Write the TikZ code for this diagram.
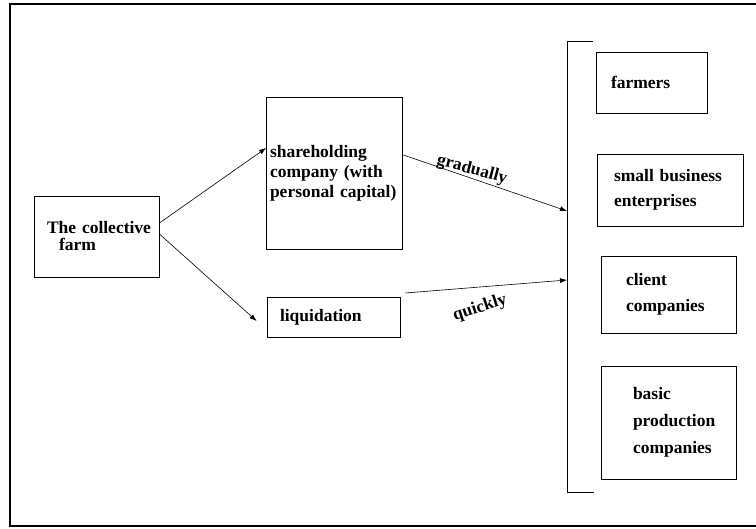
\documentclass[tikz,border=0pt]{standalone}
\usepackage{fontspec}
\setmainfont{Liberation Serif}
\usetikzlibrary{arrows.meta,calc}
\begin{document}
\begin{tikzpicture}[x=1pt,y=-1pt,
  box/.style={draw=black, line width=0.8pt, rectangle, align=left, inner ysep=0pt},
  arr/.style={draw=black, line width=0.6pt, -{Latex[length=7pt,width=5pt]}},
  lbl/.style={font=\bfseries\fontsize{17.5}{20}\selectfont, inner sep=0pt}]

\useasboundingbox (0,0) rectangle (756,529);
\draw[line width=2pt] (756,4) -- (10,4) -- (10,526) -- (756,526);

\node[box, text width=99pt, inner xsep=13pt, minimum height=81pt,
  font=\bfseries\fontsize{17.5}{17}\selectfont] (cf) at (96.5,236.5)
  {\mbox{The collective}\\\hspace*{12pt}farm};
\node[box, text width=128pt, inner xsep=4pt, minimum height=152pt,
  font=\bfseries\fontsize{17.5}{20}\selectfont] (sh) at (334,173)
  {\mbox{shareholding}\\\mbox{company (with}\\\mbox{personal capital)}};
\node[box, text width=107pt, inner xsep=13pt, minimum height=40pt,
  font=\bfseries\fontsize{17.5}{20}\selectfont] (liq) at (333.5,317)
  {\mbox{liquidation}};

\node[box, text width=81pt, inner xsep=15pt, minimum height=61pt,
  font=\bfseries\fontsize{17.5}{20}\selectfont] (farmers) at (651.5,82.5)
  {\mbox{farmers}};
\node[box, text width=112pt, inner xsep=17pt, minimum height=72pt,
  font=\bfseries\fontsize{17.5}{25}\selectfont] (sb) at (670,190)
  {\mbox{small business}\\\mbox{enterprises}};
\node[box, text width=85pt, inner xsep=25pt, minimum height=77pt,
  font=\bfseries\fontsize{17.5}{26}\selectfont] (client) at (668.5,294.5)
  {\mbox{client}\\\mbox{companies}};
\node[box, text width=71pt, inner xsep=32pt, minimum height=113pt,
  font=\bfseries\fontsize{17.5}{27}\selectfont] (basic) at (668.5,422.5)
  {\mbox{basic}\\\mbox{production}\\\mbox{companies}};

\coordinate (brT) at (593,41);
\coordinate (brB) at (594,492);
\coordinate (g) at (567,211);
\coordinate (q) at (567,280);
\draw[line width=0.8pt] (brT) -- (567,41) -- (567,492) -- (brB);

\draw[arr] ($(cf.east)+(0,-13.5)$) -- ($(sh.west)+(0.5,-25)$);
\draw[arr] ($(cf.east)+(0,-2.5)$) -- ($(liq.west)+(-10,4)$);
\draw[arr] ($(sh.east)+(1,-18)$) -- (g);
\draw[arr] ($(liq.east)+(5,-24)$) -- (q);

\node[lbl, rotate=-15] (lg) at (472,170) {gradually};
\node[lbl, rotate=18] (lq) at (480,308) {quickly};
\end{tikzpicture}
\end{document}
